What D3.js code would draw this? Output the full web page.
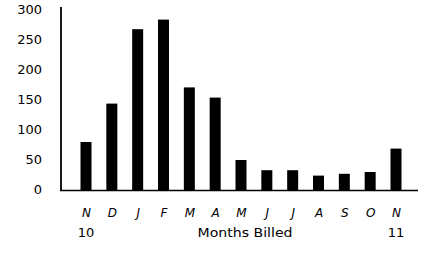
<!DOCTYPE html>
<meta charset="utf-8">
<style>
body { margin: 0; background: #fff; }
text { font-family: "DejaVu Sans", sans-serif; fill: #000; }
.bar { fill: #000; }
</style>
<body>
<svg width="427" height="262"></svg>
<script src="https://d3js.org/d3.v7.min.js"></script>
<script>

// months billed, Nov 10 .. Nov 11
var months = ["N", "D", "J", "F", "M", "A", "M", "J", "J", "A", "S", "O", "N"];
var values = [80, 144, 268, 284, 171, 154, 50, 33, 33, 24, 27, 30, 69];
var yTicks = [0, 50, 100, 150, 200, 250, 300];
var years = ["10", "11"];
var yearAt = [0, 12];
var xTitle = "Months Billed";

var svg = d3.select("svg");

var x = d3.scalePoint().domain(d3.range(months.length)).range([86, 396]);
var y = d3.scaleLinear().domain([0, 300]).range([190, 10]);
var barW = 11;

svg.selectAll(".bar")
    .data(values)
  .enter().append("rect")
    .attr("class", "bar")
    .attr("x", function(d, i) { return x(i) - barW / 2; })
    .attr("y", function(d) { return y(d); })
    .attr("width", barW)
    .attr("height", function(d) { return y(0) - y(d); });

// y axis labels
var yAxis = svg.append("g")
    .attr("transform", "translate(61,-1)")
    .call(d3.axisLeft(y).tickValues(yTicks).tickSize(0).tickPadding(19));
yAxis.select(".domain").remove();
yAxis.selectAll("text")
    .attr("font-size", "13px")
    .attr("font-family", "DejaVu Sans, sans-serif");

// x axis labels
var xAxis = svg.append("g")
    .attr("transform", "translate(0," + y(0) + ")")
    .call(d3.axisBottom(x).tickSize(0).tickPadding(18)
      .tickFormat(function(i) { return months[i]; }));
xAxis.select(".domain").remove();
xAxis.selectAll("text")
    .attr("font-size", "12px")
    .attr("font-style", "italic")
    .attr("font-family", "DejaVu Sans, sans-serif");

// axis lines
svg.append("line")
    .attr("x1", 61).attr("x2", 61)
    .attr("y1", y(305)).attr("y2", y(0) + 1)
    .attr("stroke", "#000").attr("stroke-width", 1.8);
svg.append("line")
    .attr("x1", 60).attr("x2", 418)
    .attr("y1", y(0) + 0.5).attr("y2", y(0) + 0.5)
    .attr("stroke", "#000").attr("stroke-width", 1.5);

// year labels and title
svg.selectAll(".year")
    .data(years)
  .enter().append("text")
    .attr("class", "year")
    .attr("x", function(d, i) { return x(yearAt[i]); })
    .attr("y", 237)
    .attr("text-anchor", "middle")
    .attr("font-size", "13px")
    .text(function(d) { return d; });

svg.append("text")
    .attr("x", 245)
    .attr("y", 237)
    .attr("text-anchor", "middle")
    .attr("font-size", "13px")
    .attr("textLength", 95)
    .attr("lengthAdjust", "spacingAndGlyphs")
    .text(xTitle);

</script>
</body>
